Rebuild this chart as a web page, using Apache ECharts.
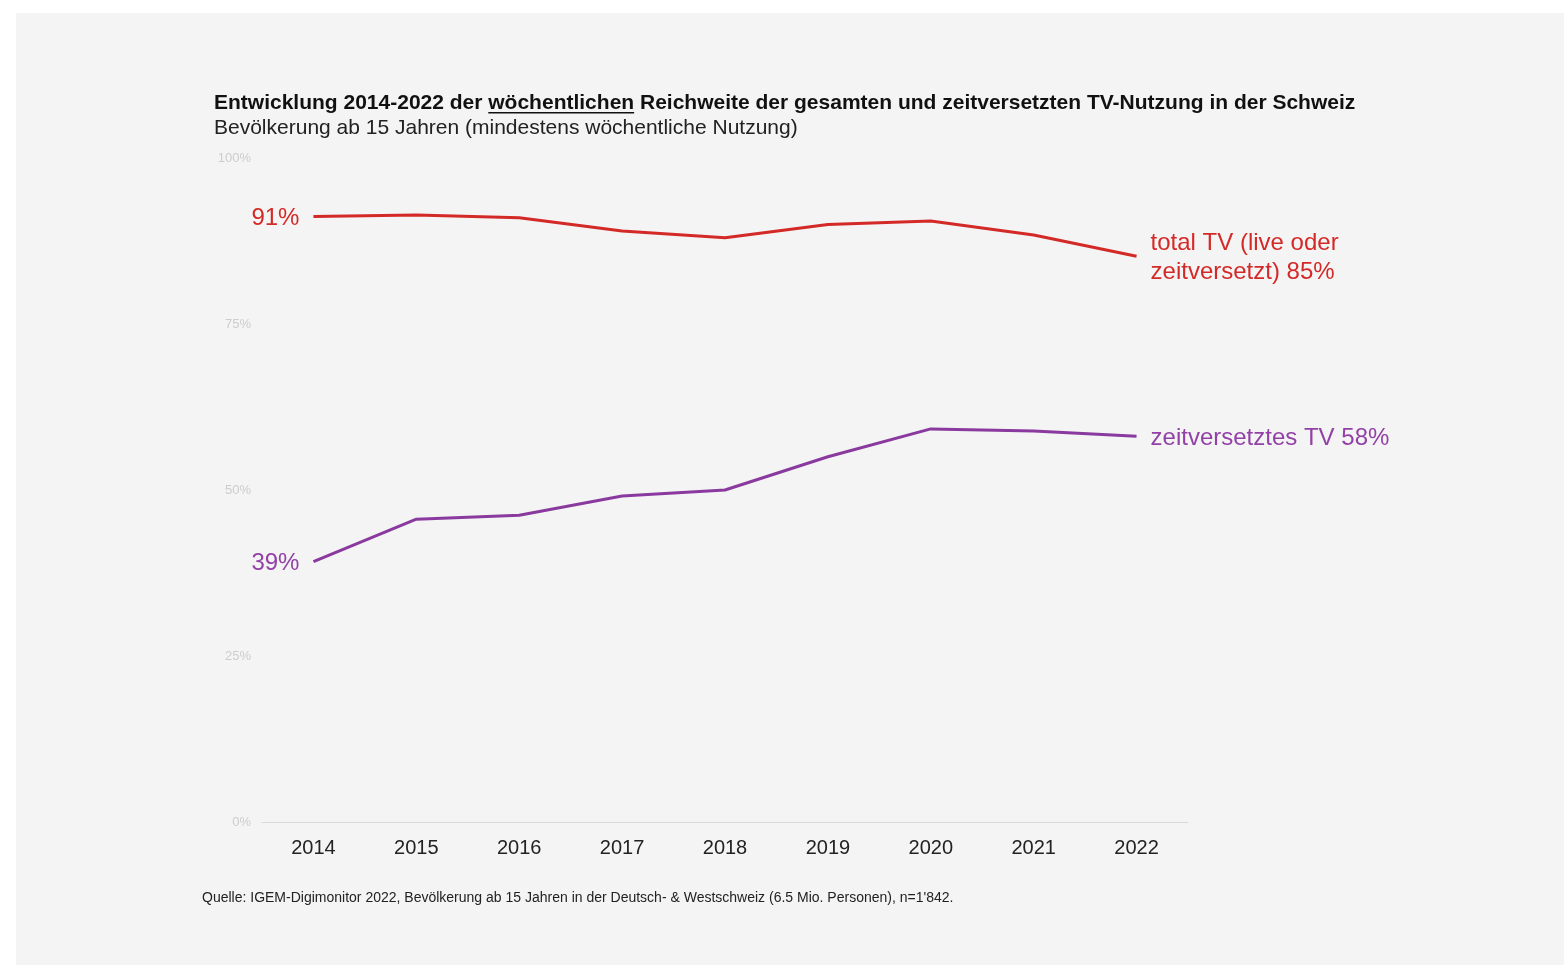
<!DOCTYPE html>
<html><head><meta charset="utf-8">
<script src="https://cdn.jsdelivr.net/npm/echarts@6/dist/echarts.min.js"></script>
<style>html,body{margin:0;padding:0;background:#fff;}#c{width:1564px;height:965px;}</style>
</head><body><div id="c"></div>
<script>
const years = ['2014','2015','2016','2017','2018','2019','2020','2021','2022'];
const totalTV = [91.2, 91.4, 91.0, 89.0, 88.0, 90.0, 90.5, 88.4, 85.2];
const shiftedTV = [39.2, 45.6, 46.2, 49.1, 50.0, 55.0, 59.2, 58.9, 58.1];
const yTicks = [0, 25, 50, 75, 100];
const totalEndText = 'total TV (live oder\nzeitversetzt) 85%';
const shiftedEndText = 'zeitversetztes TV 58%';
const totalStartText = '91%';
const shiftedStartText = '39%';
const titlePre = 'Entwicklung 2014-2022 der ';
const titleUnder = 'wöchentlichen';
const titlePost = ' Reichweite der gesamten und zeitversetzten TV-Nutzung in der Schweiz';

const RED = '#d42a27', PURPLE = '#8a3a9e', PURPLE_T = '#9241a6';
const FF = '"Liberation Sans", Arial';
const titleFont = 'bold 21px ' + FF;
const cv = document.createElement('canvas').getContext('2d');
cv.font = titleFont;
const preW = cv.measureText(titlePre).width;
const underW = cv.measureText(titleUnder).width;

const startLabel = (txt, color) => ({
  show:true, position:'left', distance:14, offset:[0,2], color: color, fontSize:24, fontFamily:FF,
  formatter: p => p.dataIndex === 0 ? txt : ''
});

const chart = echarts.init(document.getElementById('c'));
chart.setOption({
  backgroundColor: '#fff',
  animation: false,
  graphic: [
    {type:'rect', shape:{x:16,y:13,width:1548,height:952}, style:{fill:'#f4f4f4'}, z:-10},
    {type:'text', left:214, top:93, style:{text: titlePre + titleUnder + titlePost, font:titleFont, fill:'#111'}},
    {type:'text', left:214, top:118, style:{text:'Bevölkerung ab 15 Jahren (mindestens wöchentliche Nutzung)', font:'21px ' + FF, fill:'#222'}},
    {type:'rect', shape:{x:214 + preW, y:112, width:underW, height:1.6}, style:{fill:'#111'}},
    {type:'text', left:202, top:891, style:{text:'Quelle: IGEM-Digimonitor 2022, Bevölkerung ab 15 Jahren in der Deutsch- & Westschweiz (6.5 Mio. Personen), n=1\'842.', font:'14px ' + FF, fill:'#222'}}
  ],
  grid: {left:262, right:376, top:158, bottom:143},
  xAxis: {
    type:'category', data: years, boundaryGap:true,
    axisLine:{lineStyle:{color:'#d9d9d9', width:1}},
    axisTick:{show:false},
    axisLabel:{color:'#222', fontSize:20, fontFamily:FF, margin:16}
  },
  yAxis: {
    type:'value', min: yTicks[0], max: yTicks[yTicks.length-1], interval: 25,
    axisLine:{show:false}, axisTick:{show:false}, splitLine:{show:false},
    axisLabel:{color:'#cdcdcd', fontSize:13, fontFamily:FF, margin:11, formatter:'{value}%'}
  },
  series: [
    {
      name:'total', type:'line', data: totalTV, symbol:'circle', symbolSize:0, showSymbol:true,
      lineStyle:{color:RED, width:3}, itemStyle:{color:RED},
      label: startLabel(totalStartText, RED),
      endLabel:{show:true, distance:14, offset:[0,2], color:RED, fontSize:24, lineHeight:29, fontFamily:FF, formatter: () => totalEndText}
    },
    {
      name:'shifted', type:'line', data: shiftedTV, symbol:'circle', symbolSize:0, showSymbol:true,
      lineStyle:{color:PURPLE, width:3}, itemStyle:{color:PURPLE},
      label: startLabel(shiftedStartText, PURPLE_T),
      endLabel:{show:true, distance:14, offset:[0,2], color:PURPLE_T, fontSize:24, fontFamily:FF, formatter: () => shiftedEndText}
    }
  ]
});
</script></body></html>
